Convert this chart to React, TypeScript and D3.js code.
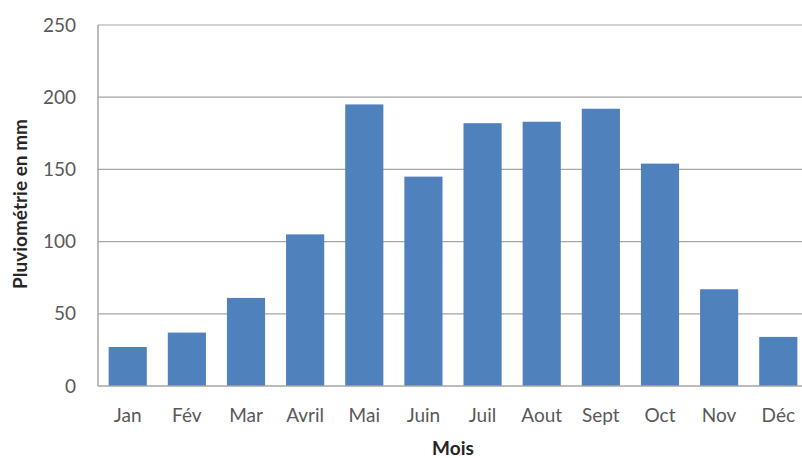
import React, { useEffect, useRef } from "react";
import * as d3 from "d3";

const months = ["Jan", "Fév", "Mar", "Avril", "Mai", "Juin", "Juil", "Aout", "Sept", "Oct", "Nov", "Déc"];
const rainfall = [27, 37, 61, 105, 195, 145, 182, 183, 192, 154, 67, 34];
const yTicks = [0, 50, 100, 150, 200, 250];

function drawChart(node: SVGSVGElement) {
  const svg = d3.select(node);
  svg.selectAll("*").remove();

  const margin = { top: 25, right: -6, bottom: 72, left: 98 };
  const W = 802, H = 458;
  const width = W - margin.left - margin.right;
  const height = H - margin.top - margin.bottom;
  const font = "Lato, 'Open Sans', sans-serif";

  const g = svg.append("g").attr("transform", `translate(${margin.left},${margin.top})`);

  const x = d3.scaleBand<string>().domain(months).range([0, width]).paddingInner(0.355).paddingOuter(0.18);
  const y = d3.scaleLinear().domain([0, 250]).range([height, 0]);

  // gridlines
  g.selectAll(".grid")
    .data(yTicks.filter((t) => t > 0))
    .enter()
    .append("line")
    .attr("x1", 0)
    .attr("x2", width)
    .attr("y1", (d) => y(d))
    .attr("y2", (d) => y(d))
    .attr("stroke", "#a6a6a6")
    .attr("stroke-width", 1.2);

  // bars
  g.selectAll(".bar")
    .data(rainfall)
    .enter()
    .append("rect")
    .attr("x", (_d, i) => x(months[i]) as number)
    .attr("width", x.bandwidth())
    .attr("y", (d) => y(d))
    .attr("height", (d) => height - y(d))
    .attr("fill", "#4f81bd");

  // axes lines
  g.append("line").attr("x1", 0).attr("x2", 0).attr("y1", 0).attr("y2", height).attr("stroke", "#a6a6a6").attr("stroke-width", 1.5);
  g.append("line").attr("x1", 0).attr("x2", width).attr("y1", height).attr("y2", height).attr("stroke", "#a6a6a6").attr("stroke-width", 1.5);

  // y tick labels
  g.selectAll(".ytick")
    .data(yTicks)
    .enter()
    .append("text")
    .attr("x", -22)
    .attr("y", (d) => y(d))
    .attr("dy", "0.35em")
    .attr("text-anchor", "end")
    .attr("font-family", font)
    .attr("font-size", 19)
    .attr("fill", "#595959")
    .text((d) => d);

  // x labels
  g.selectAll(".xtick")
    .data(months)
    .enter()
    .append("text")
    .attr("x", (d) => (x(d) as number) + x.bandwidth() / 2)
    .attr("y", height + 29)
    .attr("dy", "0.35em")
    .attr("text-anchor", "middle")
    .attr("font-family", font)
    .attr("font-size", 19)
    .attr("fill", "#595959")
    .text((d) => d);

  // axis titles
  svg.append("text")
    .attr("x", 453)
    .attr("y", 448)
    .attr("dy", "0.35em")
    .attr("text-anchor", "middle")
    .attr("font-family", font)
    .attr("font-weight", "bold")
    .attr("font-size", 19)
    .attr("fill", "#262626")
    .text("Mois");

  svg.append("text")
    .attr("transform", `translate(20,${204}) rotate(-90)`)
    .attr("dy", "0.35em")
    .attr("text-anchor", "middle")
    .attr("font-family", font)
    .attr("font-weight", "bold")
    .attr("font-size", 19)
    .attr("fill", "#262626")
    .text("Pluviométrie en mm");
}

export default function App() {
  const ref = useRef<SVGSVGElement>(null);
  useEffect(() => {
    if (ref.current) drawChart(ref.current);
  }, []);
  return (
    <svg
      ref={ref}
      width={802}
      height={458}
      style={{ position: "absolute", left: 0, top: 0, background: "#fff" }}
    />
  );
}
